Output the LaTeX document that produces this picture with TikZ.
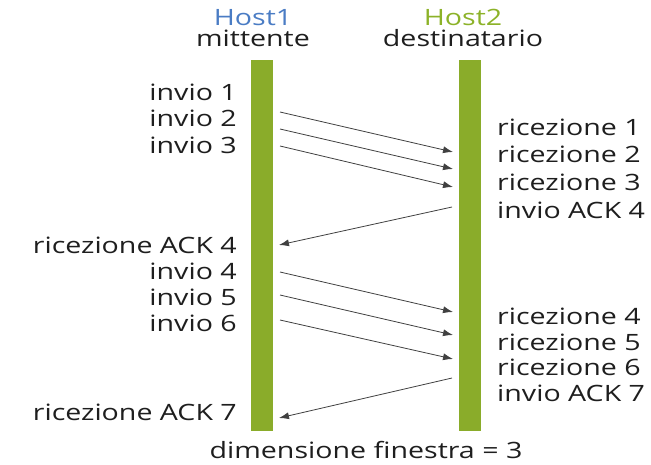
\documentclass[tikz,border=0pt]{standalone}
\usepackage{fontspec}
\setmainfont{Open Sans}[FakeStretch=1.27]
\usetikzlibrary{arrows.meta}
\definecolor{bargreen}{RGB}{138,172,42}
\definecolor{hostblue}{RGB}{74,124,196}
\definecolor{hostgreen}{RGB}{140,178,40}
\definecolor{txt}{RGB}{30,30,30}
\tikzset{
  lbl/.style={inner sep=0pt, text=txt, font=\fontsize{22.5}{22.5}\selectfont},
  lleft/.style={lbl, anchor=east},
  lright/.style={lbl, anchor=west},
  bar/.style={fill=bargreen, draw=none},
  msg/.style={draw=black!75, line width=0.8pt, -{Latex[length=10pt,width=7pt]}},
}
\begin{document}
\begin{tikzpicture}[x=1pt,y=-1pt]
\useasboundingbox (0,0) rectangle (651,464);
% timelines
\fill[bar] (251,60) rectangle (273,431);
\fill[bar] (459,60) rectangle (481,431);
% headers
\node[lbl, text=hostblue, anchor=base] (h1) at (253,25) {Host1};
\node[lbl, anchor=base] (m1) at (253,46) {mittente};
\node[lbl, text=hostgreen, anchor=base] (h2) at (463,25) {Host2};
\node[lbl, anchor=base] (m2) at (463,46) {destinatario};
% sender events
\node[lleft] (s1) at (237,92) {invio 1};
\node[lleft] (s2) at (237,118) {invio 2};
\node[lleft] (s3) at (237,145) {invio 3};
\node[lleft] (ra4) at (237,245) {ricezione ACK 4};
\node[lleft] (s4) at (237,271) {invio 4};
\node[lleft] (s5) at (237,297) {invio 5};
\node[lleft] (s6) at (237,323) {invio 6};
\node[lleft] (ra7) at (237,412) {ricezione ACK 7};
% receiver events
\node[lright] (r1) at (497,127) {ricezione 1};
\node[lright] (r2) at (497,154) {ricezione 2};
\node[lright] (r3) at (497,182) {ricezione 3};
\node[lright] (sa4) at (497,210) {invio ACK 4};
\node[lright] (r4) at (497,316) {ricezione 4};
\node[lright] (r5) at (497,342) {ricezione 5};
\node[lright] (r6) at (497,367) {ricezione 6};
\node[lright] (sa7) at (497,393) {invio ACK 7};
\node[lbl] (win) at (366,450) {dimensione finestra = 3};
% message end points
\coordinate (a1) at (280,112); \coordinate (b1) at (453,152);
\coordinate (a2) at (280,129); \coordinate (b2) at (453,169);
\coordinate (a3) at (280,146); \coordinate (b3) at (453,187);
\coordinate (c4) at (452,207); \coordinate (d4) at (279,245);
\coordinate (a4) at (280,272); \coordinate (b4) at (453,312);
\coordinate (a5) at (280,295); \coordinate (b5) at (453,335);
\coordinate (a6) at (280,320); \coordinate (b6) at (453,359);
\coordinate (c7) at (452,378); \coordinate (d7) at (279,418);
% messages
\draw[msg] (a1) -- (b1);
\draw[msg] (a2) -- (b2);
\draw[msg] (a3) -- (b3);
\draw[msg] (c4) -- (d4);
\draw[msg] (a4) -- (b4);
\draw[msg] (a5) -- (b5);
\draw[msg] (a6) -- (b6);
\draw[msg] (c7) -- (d7);
\end{tikzpicture}
\end{document}
